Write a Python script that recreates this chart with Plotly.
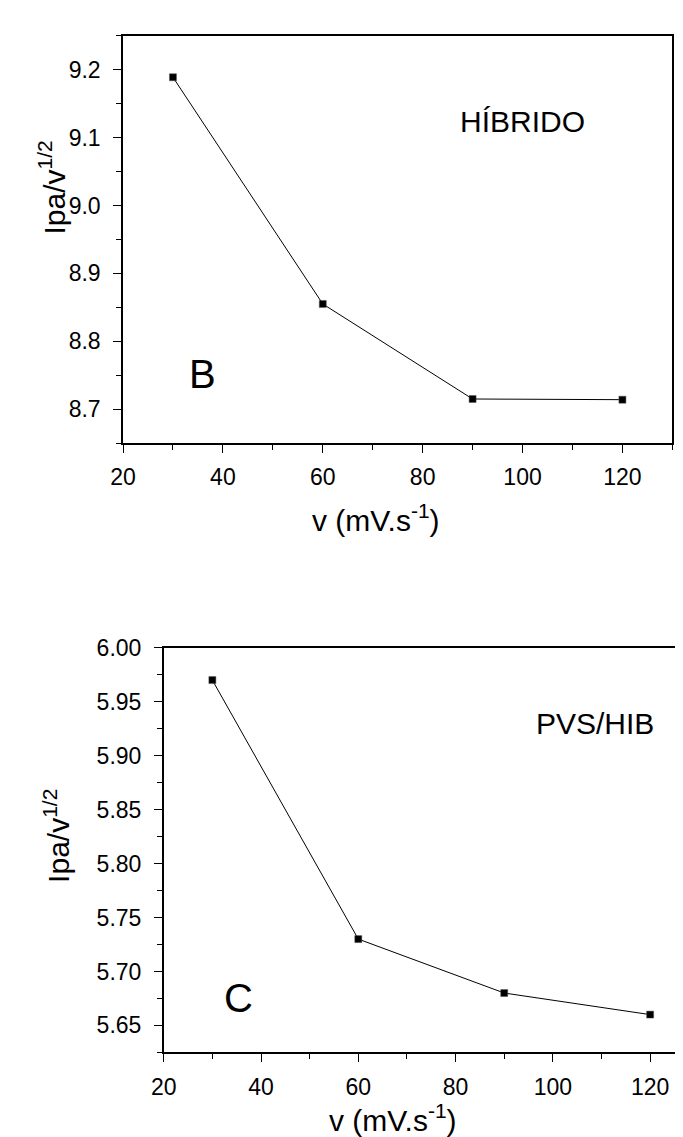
import plotly.graph_objects as go

# ---- data ----
scan_rate = [30, 60, 90, 120]
hibrido_vals = [9.189, 8.855, 8.715, 8.714]
pvs_hib_vals = [5.970, 5.730, 5.680, 5.660]

x_title = "v (mV.s<sup>-1</sup>)"
y_title = "Ipa/v<sup>1/2</sup>"

W, H = 683, 1137
def px(x): return x / W
def py(y): return 1 - y / H

FONT = "Liberation Sans, Arial, sans-serif"

fig = go.Figure()
line_style = dict(color="black", width=1)
marker_style = dict(symbol="square", size=7, color="black",
                    line=dict(color="#555", width=0.5))

fig.add_trace(go.Scatter(x=scan_rate, y=hibrido_vals, mode="lines+markers",
                         line=line_style, marker=marker_style,
                         xaxis="x", yaxis="y", showlegend=False))
fig.add_trace(go.Scatter(x=scan_rate, y=pvs_hib_vals, mode="lines+markers",
                         line=line_style, marker=marker_style,
                         xaxis="x2", yaxis="y2", showlegend=False))

tickfont = dict(family=FONT, size=23, color="black")
common_x = dict(showgrid=False, zeroline=False, showline=True, linecolor="black",
                linewidth=1.5, ticks="outside", ticklen=8, tickwidth=1.3,
                tickcolor="black", tick0=20, dtick=20, tickfont=tickfont,
                ticklabelstandoff=5,
                minor=dict(ticks="outside", ticklen=5, dtick=10, tickwidth=1.2,
                           tickcolor="black"))
common_y = dict(showgrid=False, zeroline=False, showline=True, linecolor="black",
                linewidth=1.5, ticks="outside", ticklen=8, tickwidth=1.3,
                tickcolor="black", tickfont=tickfont, ticklabelstandoff=8)

fig.update_layout(
    width=W, height=H, margin=dict(l=0, r=0, t=0, b=0),
    paper_bgcolor="white", plot_bgcolor="white",
    xaxis=dict(common_x, domain=[px(104), px(664)], range=[20, 130],
               anchor="y", mirror=True),
    yaxis=dict(common_y, domain=[py(427), py(15)], range=[8.65, 9.25],
               anchor="x", mirror=True, tick0=8.7, dtick=0.1, tickformat=".1f",
               minor=dict(ticks="outside", ticklen=5, dtick=0.05, tickwidth=1.2,
                          tickcolor="black")),
    xaxis2=dict(common_x, domain=[px(145.5), 1.0], range=[20, 128.4],
                anchor="y2", mirror=True),
    yaxis2=dict(common_y, domain=[py(1043.3), py(634)], range=[5.625, 6.0],
                anchor="x2", mirror=False, tick0=5.65, dtick=0.05, tickformat=".2f",
                minor=dict(ticks="outside", ticklen=5, dtick=0.025, tickwidth=1.2,
                           tickcolor="black")),
)

def txt(text, x, y, size, angle=0):
    fig.add_annotation(text=text, x=px(x), y=py(y), xref="paper", yref="paper",
                       showarrow=False, textangle=angle, xanchor="center",
                       yanchor="middle",
                       font=dict(family=FONT, size=size, color="black"))

# panel labels
txt("HÍBRIDO", 511, 102, 30)
txt("B", 185, 357, 40)
txt("PVS/HIB", 585, 711, 30)
txt("C", 222, 988, 40)

# axis titles
txt(x_title, 362, 503, 30)
txt(x_title, 379, 1110, 30)
txt(y_title, 32, 168, 30, -90)
txt(y_title, 36, 824, 30, -90)

fig.write_html("out.html")
